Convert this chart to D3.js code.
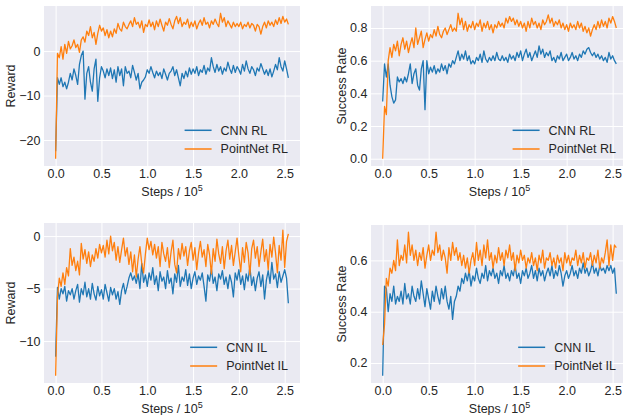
<!DOCTYPE html>
<html>
<head>
<meta charset="utf-8">
<script src="https://cdn.jsdelivr.net/npm/d3@7"></script>
<style>
  body { margin: 0; background: #fff; }
  svg { display: block; font-family: "Liberation Sans", Arial, sans-serif; }
</style>
</head>
<body>
<svg width="623" height="415"></svg>
<script>
var svg = d3.select('svg');

// one logged point every 0.02 x 10^5 steps
var stepSize = 0.02;
var xTicks = [0, 0.5, 1.0, 1.5, 2.0, 2.5];

var cnnRewardRL = [-22.5, -6, -7.5, -6, -8, -7, -8.5, -7, -5, -6.5,
  -4, -5.5, -7.5, -3, -1, 0, -10.8, -5, -3.5, -7,
  -9, -4, -1.8, -11.3, -6, -3.5, -4.5, -6, -4, -5.5,
  -3.8, -6.2, -4.2, -7, -3.5, -5.5, -4, -7.8, -3.5, -5,
  -4.5, -6, -3.2, -4.8, -6.5, -5, -8.5, -7, -6.5, -5.8,
  -4.2, -5, -3.5, -4.8, -6, -4.5, -5.5, -4.8, -6.2, -4,
  -5.2, -6.5, -5, -4.5, -3.5, -5.5, -4.2, -6, -7.8, -5,
  -6.2, -4.5, -5.8, -3.8, -5.2, -4, -5, -3.5, -5.5, -4.2,
  -4.8, -3.2, -5.2, -3.8, -4.5, -1.5, -3.5, -4.8, -3, -4.5,
  -3.5, -5.2, -3.8, -4.5, -2.5, -4, -5, -3.2, -4.8, -3.5,
  -4.2, -5.2, -3, -4.5, -2.2, -4, -5, -3.5, -4.2, -5.5,
  -3.8, -4.5, -2.8, -4, -5.2, -4.2, -5.5, -4, -5.8, -4.5,
  -3, -4.2, -1.5, -3.5, -4.5, -2.2, -4, -6];

var pointnetRewardRL = [-24.2, -0.5, -1.5, 1, -1.8, 1.5, -0.5, 2.2, 0.5, 1.2,
  2.5, 0.8, 1.5, -0.3, 2.5, 3.2, 2, 4.5, 3.5, 5.5,
  3, 4.2, 1.5, 4, 5.8, 4.5, 5.2, 3.5, 4.8, 3,
  4.5, 3.2, 5, 4, 6.2, 5, 4.5, 6.5, 5.5, 5,
  6, 6.8, 5.5, 7.5, 6, 6.5, 5.2, 6.8, 4.2, 6,
  5.5, 7, 5.5, 6.5, 4.8, 6.8, 5.5, 7.2, 5.8, 4.5,
  6.5, 5.8, 7.3, 6, 5, 6.8, 7.8, 6.2, 7.5, 5.5,
  6.5, 6, 7.2, 5.2, 6.5, 5.5, 6.8, 5, 6.2, 7,
  5.8, 7.5, 6, 6.5, 5.2, 6.8, 6, 7.2, 6.2, 5.5,
  8.5, 6.5, 7.5, 5.5, 6.8, 6, 5.2, 6.5, 5.5, 6.2,
  5.5, 6.5, 5, 6, 5.5, 6.5, 5.2, 6.2, 5.8, 4.5,
  6, 5.5, 3.8, 5.5, 6.5, 5.2, 6.8, 5.8, 6.5, 5.5,
  7, 6, 7.5, 6.2, 7.8, 6.5, 7.2, 6];

var cnnSuccessRL = [0.35, 0.58, 0.5, 0.58, 0.45, 0.38, 0.34, 0.36, 0.5, 0.47,
  0.49, 0.46, 0.5, 0.47, 0.52, 0.58, 0.46, 0.52, 0.55, 0.45,
  0.42, 0.55, 0.6, 0.3, 0.6, 0.52, 0.56, 0.53, 0.57, 0.52,
  0.55, 0.53, 0.58, 0.54, 0.57, 0.52, 0.58, 0.56, 0.6, 0.58,
  0.62, 0.66, 0.6, 0.64, 0.61, 0.66, 0.6, 0.63, 0.58, 0.6,
  0.58, 0.62, 0.6, 0.64, 0.59, 0.66, 0.61, 0.59, 0.62, 0.6,
  0.63, 0.6, 0.65, 0.61, 0.6, 0.63, 0.6, 0.62, 0.59, 0.64,
  0.61, 0.63, 0.6, 0.65, 0.62, 0.66, 0.6, 0.64, 0.67, 0.62,
  0.65, 0.6, 0.63, 0.66, 0.62, 0.69, 0.64, 0.67, 0.62, 0.65,
  0.63, 0.66, 0.6, 0.62, 0.59, 0.63, 0.61, 0.65, 0.6, 0.62,
  0.64, 0.6, 0.62, 0.65, 0.61, 0.63, 0.6, 0.64, 0.62, 0.66,
  0.64, 0.67, 0.68, 0.65, 0.63, 0.65, 0.62, 0.64, 0.61, 0.63,
  0.6, 0.62, 0.59, 0.65, 0.61, 0.63, 0.6, 0.58];

var pointnetSuccessRL = [0.0, 0.32, 0.27, 0.6, 0.68, 0.62, 0.7, 0.66, 0.72, 0.63,
  0.7, 0.74, 0.67, 0.72, 0.65, 0.7, 0.74, 0.68, 0.8, 0.7,
  0.74, 0.78, 0.68, 0.73, 0.77, 0.72, 0.76, 0.74, 0.79, 0.75,
  0.81, 0.76, 0.74, 0.78, 0.8, 0.76, 0.79, 0.82, 0.78, 0.8,
  0.78, 0.89, 0.82, 0.86, 0.79, 0.84, 0.78, 0.82, 0.8, 0.84,
  0.79, 0.83, 0.81, 0.85, 0.78, 0.83, 0.8, 0.84, 0.79, 0.82,
  0.77, 0.82, 0.8, 0.84, 0.81, 0.83, 0.8, 0.86, 0.83, 0.87,
  0.84, 0.86, 0.82, 0.85, 0.81, 0.84, 0.8, 0.83, 0.78, 0.84,
  0.8, 0.86, 0.82, 0.84, 0.8, 0.83, 0.79, 0.85, 0.82, 0.84,
  0.88, 0.83, 0.86, 0.81, 0.84, 0.82, 0.85, 0.8, 0.83, 0.79,
  0.82, 0.78, 0.83, 0.8, 0.82, 0.79, 0.84, 0.8, 0.83, 0.78,
  0.81, 0.77, 0.8, 0.75, 0.79, 0.82, 0.79, 0.84, 0.8, 0.85,
  0.81, 0.84, 0.8, 0.86, 0.83, 0.87, 0.84, 0.8];

var cnnRewardIL = [-11.5, -4.9, -6, -5, -5.5, -4.8, -6.2, -5.2, -5.6, -5,
  -6, -5.2, -4.6, -6.3, -5, -5.6, -4.4, -5.8, -5, -6,
  -4.5, -5.5, -6.1, -4.8, -5.7, -5.1, -6, -4.6, -5.4, -6.2,
  -4.9, -5.6, -5, -6, -5.3, -6.5, -5.2, -4.5, -5.5, -4.8,
  -4, -3.5, -4.2, -3.8, -4.5, -3.6, -5, -2.6, -4.4, -3.7,
  -4.8, -3.5, -4.2, -3, -4.6, -3.8, -5.2, -3.4, -4.3, -3.9,
  -5, -3.3, -4.5, -4, -5.5, -3.6, -4.4, -2.8, -4.8, -3.9,
  -4.3, -3.2, -4.7, -3.6, -5, -4, -3.4, -4.6, -3.8, -4.2,
  -3.5, -4.8, -6.2, -3.7, -4.3, -3.1, -4.5, -3.9, -5.2, -3.6,
  -4.1, -3.3, -4.6, -3.9, -5, -3.7, -4.4, -5.8, -3.5, -4.2,
  -3.2, -4.6, -3.8, -5.1, -3.6, -4.3, -2.9, -4.7, -3.9, -5.2,
  -4, -3.4, -4.8, -3.7, -6, -4.2, -3.3, -4.5, -2.5, -4.1,
  -3.6, -4.9, -3.4, -4.4, -3.8, -3.2, -4, -6.4];

var pointnetRewardIL = [-13.3, -5.8, -4, -4.8, -3.5, -4.6, -3, -3.8, -1.2, -2.8,
  -2, -3.3, -2.4, -3.7, -0.7, -2.2, -1.3, -2.6, -1.5, -2.9,
  -1.8, -2.4, -1.2, -2.1, -0.8, -1.6, -0.9, -2, -0.4, -1.7,
  0, -1.4, -0.6, -2.3, -1, -2.5, -1.3, -0.2, -1.9, -1.1,
  -2.7, -1.5, -3.4, -1.8, -3.9, -2.2, -1, -2.6, -3.5, -1.7,
  -0.2, -1.3, -0.5, -1.8, -0.8, -2.1, -1, -2.9, -0.6, -1.7,
  -2.4, -1.1, -3, -1.5, -0.4, -2.7, -3.5, -1.2, -2.2, -0.7,
  -1.9, -1, -2.8, -1.4, -0.6, -2.3, -1.1, -3.2, -1.6, -0.5,
  -2, -1.3, -2.9, -0.8, -1.8, -3.6, -1.2, -2.4, -0.3, -1.7,
  -2.6, -1, -3.1, -1.4, -0.4, -2.2, -0.9, -2.8, -1.5, -0.2,
  -1.9, -3.4, -1.1, -2.5, -0.6, -1.6, -3.7, -1.2, -0.4, -2.1,
  -1, -2.9, -1.5, -0.3, -2.4, -1.3, -3.2, -0.8, -2, -0.1,
  -1.6, -3.5, -0.9, -2.3, 0.55, -3, -0.5, 0.2];

var cnnSuccessIL = [0.15, 0.5, 0.49, 0.4, 0.47, 0.44, 0.5, 0.43, 0.46, 0.44,
  0.48, 0.43, 0.51, 0.45, 0.47, 0.43, 0.5, 0.46, 0.44, 0.49,
  0.45, 0.52, 0.47, 0.42, 0.49, 0.45, 0.41, 0.48, 0.44, 0.5,
  0.46, 0.43, 0.49, 0.45, 0.5, 0.44, 0.41, 0.46, 0.37, 0.44,
  0.46, 0.5, 0.48, 0.53, 0.51, 0.55, 0.52, 0.56, 0.5, 0.54,
  0.52, 0.57, 0.53, 0.51, 0.55, 0.53, 0.58, 0.52, 0.56, 0.54,
  0.57, 0.53, 0.55, 0.51, 0.56, 0.54, 0.58, 0.53, 0.55, 0.52,
  0.56, 0.54, 0.58, 0.53, 0.55, 0.51, 0.56, 0.54, 0.57, 0.53,
  0.55, 0.58, 0.53, 0.56, 0.52, 0.57, 0.54, 0.56, 0.52, 0.55,
  0.57, 0.54, 0.58, 0.53, 0.56, 0.54, 0.58, 0.55, 0.5, 0.54,
  0.56, 0.53, 0.55, 0.58, 0.54, 0.56, 0.53, 0.57, 0.55, 0.59,
  0.55, 0.57, 0.54, 0.56, 0.59, 0.55, 0.57, 0.54, 0.58, 0.56,
  0.57, 0.55, 0.58, 0.56, 0.58, 0.55, 0.57, 0.47];

var pointnetSuccessIL = [0.27, 0.35, 0.53, 0.5, 0.57, 0.55, 0.6, 0.56, 0.68, 0.58,
  0.62, 0.6, 0.66, 0.59, 0.71, 0.62, 0.66, 0.6, 0.64, 0.58,
  0.63, 0.6, 0.65, 0.57, 0.62, 0.66, 0.6, 0.64, 0.62, 0.71,
  0.63, 0.66, 0.6, 0.64, 0.61, 0.55, 0.65, 0.6, 0.67, 0.62,
  0.65, 0.6, 0.63, 0.58, 0.62, 0.57, 0.61, 0.55, 0.6, 0.63,
  0.58, 0.67, 0.6, 0.64, 0.58, 0.66, 0.61, 0.68, 0.6, 0.63,
  0.57, 0.62, 0.59, 0.65, 0.6, 0.63, 0.58, 0.64, 0.61, 0.66,
  0.6, 0.63, 0.56, 0.62, 0.59, 0.64, 0.6, 0.62, 0.57, 0.61,
  0.59, 0.63, 0.58, 0.61, 0.56, 0.62, 0.59, 0.64, 0.57, 0.61,
  0.6, 0.63, 0.58, 0.61, 0.57, 0.62, 0.59, 0.61, 0.56, 0.63,
  0.59, 0.62, 0.58, 0.61, 0.6, 0.64, 0.58, 0.62, 0.59, 0.63,
  0.57, 0.61, 0.6, 0.63, 0.58, 0.62, 0.59, 0.64, 0.57, 0.61,
  0.59, 0.63, 0.68, 0.58, 0.66, 0.6, 0.66, 0.65];

var rewardRLTicks = [-20, -10, 0];
var successRLTicks = [0.0, 0.2, 0.4, 0.6, 0.8];
var rewardILTicks = [-10, -5, 0];
var successILTicks = [0.2, 0.4, 0.6];

var blue = '#1f77b4', orange = '#ff7f0e', ink = '#262626';

var panels = [
  {x0: 44, x1: 300, y0: 6, y1: 166, label: 'Reward', cnn: cnnRewardRL, pn: pointnetRewardRL, ticks: rewardRLTicks, fmt: d3.format('d'), tag: 'RL'},
  {x0: 371, x1: 628, y0: 6, y1: 166, label: 'Success Rate', cnn: cnnSuccessRL, pn: pointnetSuccessRL, ticks: successRLTicks, fmt: d3.format('.1f'), tag: 'RL'},
  {x0: 44, x1: 300, y0: 223, y1: 383, label: 'Reward', cnn: cnnRewardIL, pn: pointnetRewardIL, ticks: rewardILTicks, fmt: d3.format('d'), tag: 'IL'},
  {x0: 371, x1: 628, y0: 225, y1: 383, label: 'Success Rate', cnn: cnnSuccessIL, pn: pointnetSuccessIL, ticks: successILTicks, fmt: d3.format('.1f'), tag: 'IL'}
];

panels.forEach(function (p, k) {
  var xmax = (p.cnn.length - 1) * stepSize;
  var ext = d3.extent(p.cnn.concat(p.pn));
  var pad = (ext[1] - ext[0]) * 0.05;
  var x = d3.scaleLinear().domain([-xmax * 0.05, xmax * 1.05]).range([p.x0, p.x1]);
  var y = d3.scaleLinear().domain([ext[0] - pad, ext[1] + pad]).range([p.y1, p.y0]);
  var w = p.x1 - p.x0, h = p.y1 - p.y0;

  var g = svg.append('g');

  g.append('rect')
    .attr('x', p.x0).attr('y', p.y0)
    .attr('width', w).attr('height', h)
    .attr('fill', '#eaeaf2');

  svg.append('clipPath').attr('id', 'clip' + k)
    .append('rect')
    .attr('x', p.x0).attr('y', p.y0)
    .attr('width', w).attr('height', h);

  // x axis + vertical grid
  var gx = g.append('g')
    .attr('transform', 'translate(0,' + p.y1 + ')')
    .call(d3.axisBottom(x).tickValues(xTicks).tickFormat(d3.format('.1f'))
      .tickSizeInner(-h).tickSizeOuter(0).tickPadding(3));
  // y axis + horizontal grid
  var gy = g.append('g')
    .attr('transform', 'translate(' + p.x0 + ',0)')
    .call(d3.axisLeft(y).tickValues(p.ticks).tickFormat(p.fmt)
      .tickSizeInner(-w).tickSizeOuter(0).tickPadding(3.5));

  [gx, gy].forEach(function (a) {
    a.select('.domain').remove();
    a.attr('font-size', 12.5).attr('font-family', null);
    a.selectAll('line').attr('stroke', '#fff').attr('stroke-width', 1);
    a.selectAll('text').attr('fill', ink);
  });

  var maxTickW = d3.max(gy.selectAll('text').nodes(), function (n) { return n.getComputedTextLength(); });

  var line = d3.line()
    .x(function (d, i) { return x(i * stepSize); })
    .y(function (d) { return y(d); });

  var lines = g.append('g').attr('clip-path', 'url(#clip' + k + ')');
  [[p.cnn, blue], [p.pn, orange]].forEach(function (s) {
    lines.append('path')
      .datum(s[0])
      .attr('d', line)
      .attr('fill', 'none')
      .attr('stroke', s[1])
      .attr('stroke-width', 1.3)
      .attr('stroke-linejoin', 'round');
  });

  // axis labels
  g.append('text')
    .attr('transform', 'translate(' + (p.x0 - 3.5 - maxTickW - 4.5) + ',' + ((p.y0 + p.y1) / 2) + ') rotate(-90)')
    .attr('text-anchor', 'middle')
    .attr('font-size', 12.5)
    .attr('fill', ink)
    .text(p.label);

  var xl = g.append('text')
    .attr('x', (p.x0 + p.x1) / 2)
    .attr('y', p.y1 + 29.5)
    .attr('text-anchor', 'middle')
    .attr('font-size', 12.5)
    .attr('fill', ink);
  xl.append('tspan').text('Steps / 10');
  xl.append('tspan').attr('font-size', 9).attr('dy', -5).text('5');

  // legend, lower right, no frame
  var names = ['CNN ' + p.tag, 'PointNet ' + p.tag];
  var leg = g.append('g');
  var texts = names.map(function (n, i) {
    return leg.append('text')
      .attr('font-size', 12.5)
      .attr('fill', ink)
      .attr('dy', '0.35em')
      .text(n);
  });
  var tw = d3.max(texts, function (t) { return t.node().getComputedTextLength(); });
  var lx = p.x1 - 12 - tw - 36;
  [blue, orange].forEach(function (c, i) {
    var ly = p.y1 - 17 - (1 - i) * 18.7;
    leg.append('line')
      .attr('x1', lx).attr('x2', lx + 27)
      .attr('y1', ly).attr('y2', ly)
      .attr('stroke', c).attr('stroke-width', 1.5);
    texts[i].attr('x', lx + 36).attr('y', ly);
  });
});
</script>
</body>
</html>
